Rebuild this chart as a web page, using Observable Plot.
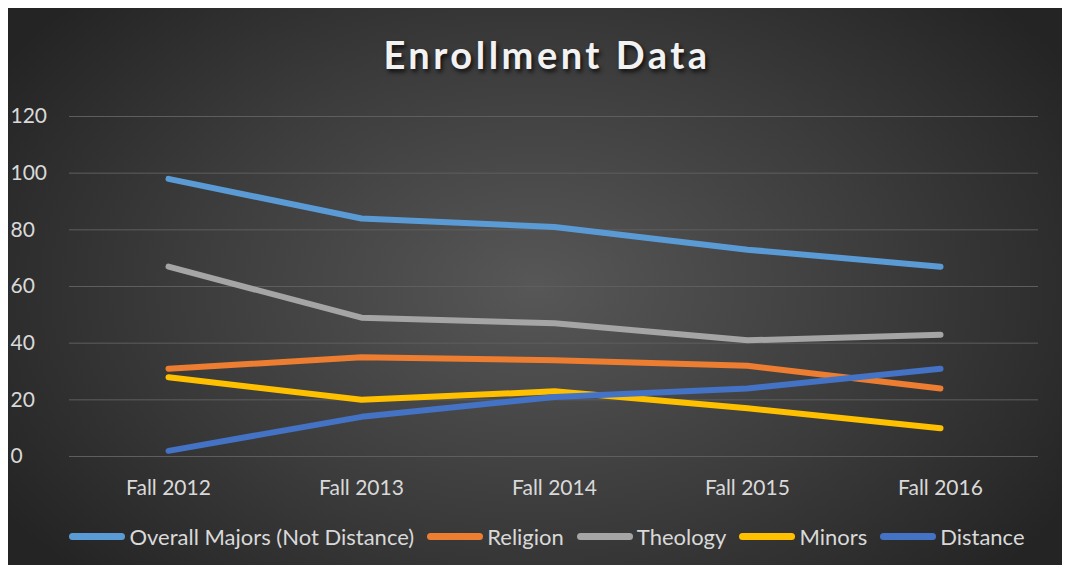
<!DOCTYPE html>
<html>
<head>
<meta charset="utf-8">
<script src="https://cdn.jsdelivr.net/npm/d3@7"></script>
<script src="https://cdn.jsdelivr.net/npm/@observablehq/plot@0.6"></script>
<style>
  html, body { margin: 0; padding: 0; background: #fff; }
  #box {
    position: absolute; left: 8px; top: 8px; width: 1054px; height: 557px;
    background: radial-gradient(ellipse 60% 75% at 50% 50%, #575757 0%, #3c3c3c 55%, #242424 100%);
    font-family: Lato, "Open Sans", sans-serif;
    overflow: hidden;
  }
  #title {
    position: absolute; left: 12px; width: 100%; top: 23px; text-align: center;
    color: #f2f2f2; font-size: 38px; font-weight: 700; letter-spacing: 3.5px;
    text-shadow: 2px 3px 4px rgba(0,0,0,0.75);
  }
  #chart { position: absolute; left: 0; top: 84px; }
  #legend {
    position: absolute; left: 12px; width: 100%; top: 515px; display: flex; justify-content: center;
    gap: 13px; color: #d9d9d9; font-size: 22px; align-items: center;
  }
  .item { display: flex; align-items: center; }
  .sw { width: 56px; height: 7px; border-radius: 4px; margin-right: 4px; }
</style>
</head>
<body>
<div id="box">
  <div id="title">Enrollment Data</div>
  <div id="chart"></div>
  <div id="legend"></div>
</div>
<script>
const categories = ["Fall 2012", "Fall 2013", "Fall 2014", "Fall 2015", "Fall 2016"];
const seriesNames = ["Overall Majors (Not Distance)", "Religion", "Theology", "Minors", "Distance"];
const seriesColors = ["#5B9BD5", "#ED7D31", "#A5A5A5", "#FFC000", "#4472C4"];
const overallMajors = [98, 84, 81, 73, 67];
const religion = [31, 35, 34, 32, 24];
const theology = [67, 49, 47, 41, 43];
const minors = [28, 20, 23, 17, 10];
const distance = [2, 14, 21, 24, 31];
const yTicks = [0, 20, 40, 60, 80, 100, 120];

const seriesValues = [overallMajors, religion, theology, minors, distance];
const rows = [];
seriesNames.forEach((name, i) => {
  categories.forEach((c, j) => rows.push({series: name, category: c, value: seriesValues[i][j]}));
});
const plot = Plot.plot({
  width: 1054,
  height: 426,
  marginLeft: 61,
  marginRight: 24,
  marginTop: 24,
  marginBottom: 62,
  style: {background: "transparent", fontFamily: "Lato, 'Open Sans', sans-serif", color: "#d9d9d9", fontSize: "21px", overflow: "visible"},
  x: {type: "point", domain: categories, padding: 0.5},
  y: {domain: [0, 120]},
  color: {domain: seriesNames, range: seriesColors},
  marks: [
    Plot.ruleY(yTicks, {stroke: "#5e5e5e", strokeWidth: 1}),
    Plot.axisY({ticks: yTicks, tickSize: 0, tickPadding: 59, textAnchor: "start", fill: "#d9d9d9", fontSize: 21, label: null}),
    Plot.axisX({tickSize: 0, tickPadding: 24, fill: "#d9d9d9", fontSize: 21, label: null}),
    ...seriesNames.map(name => Plot.line(rows.filter(r => r.series === name), {
      x: "category", y: "value", stroke: "series", strokeWidth: 6,
      strokeLinecap: "round", strokeLinejoin: "round",
      style: "filter: drop-shadow(2px 3px 3px rgba(0,0,0,0.55))"
    }))
  ]
});
document.getElementById("chart").appendChild(plot);

const legend = document.getElementById("legend");
seriesNames.forEach((n, i) => {
  const it = document.createElement("div");
  it.className = "item";
  it.innerHTML = `<span class="sw" style="background:${seriesColors[i]}"></span><span>${n}</span>`;
  legend.appendChild(it);
});
</script>
</body>
</html>
